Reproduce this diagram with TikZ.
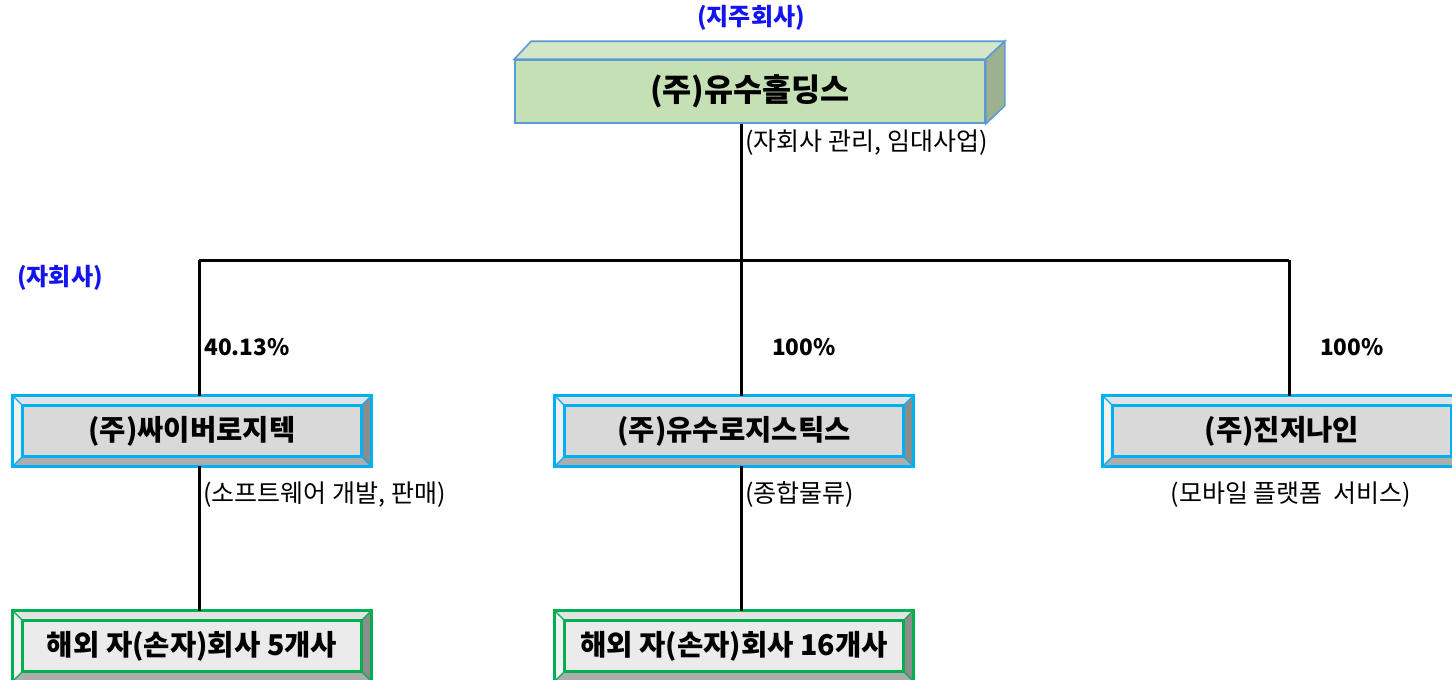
\documentclass[tikz,border=0pt]{standalone}
\usepackage{fontspec}
\setmainfont{Noto Sans CJK KR}

\definecolor{holdfront}{HTML}{C5E0B4}
\definecolor{holdtop}{HTML}{D3E6C7}
\definecolor{holdside}{HTML}{9DB18E}
\definecolor{holdline}{HTML}{5B9BD5}
\definecolor{framecyan}{HTML}{00B0F0}
\definecolor{framegreen}{HTML}{00B050}
\definecolor{facegray}{HTML}{D9D9D9}
\definecolor{facelight}{HTML}{EBEBEB}
\definecolor{bevtop}{HTML}{E3E3E3}
\definecolor{bevleft}{HTML}{F2F2F2}
\definecolor{bevbottom}{HTML}{ADADAD}
\definecolor{bevright}{HTML}{8C8C8C}
\definecolor{titleblue}{HTML}{1414F0}

\tikzset{
    holdbox/.style={draw=holdline, line width=0.8pt, fill=holdfront,
        minimum width=235pt, minimum height=31.5pt, inner sep=0pt,
        font=\bfseries\fontsize{15.8}{19}\selectfont},
    panel/.style={fill=#1, minimum width=179pt, minimum height=35pt, inner sep=0pt,
        font=\bfseries\fontsize{14.3}{17}\selectfont},
    link/.style={line width=1.5pt, black},
    note/.style={inner sep=0pt, font=\fontsize{12.5}{15}\selectfont},
    share/.style={inner sep=0pt, font=\bfseries\fontsize{11.3}{14}\selectfont},
    tag/.style={inner sep=0pt, text=titleblue, font=\bfseries\fontsize{12}{14}\selectfont}
}

\begin{document}
\begin{tikzpicture}[x=0.5pt, y=-0.5pt]
    \useasboundingbox (0,0) rectangle (1452,680);
    % holding company
    \node[tag] (holdtag) at (751,18) {(지주회사)};
    \node[holdbox] (hold) at (750,91.5) {(주)유수홀딩스};
    \filldraw[fill=holdtop, draw=holdline, line width=0.8pt] (hold.north west) -- ++(17,-18)
        -- ([shift={(19,-18)}]hold.north east) -- (hold.north east) -- cycle;
    \filldraw[fill=holdside, draw=holdline, line width=0.8pt] (hold.north east) -- ++(19,-18)
        -- ([shift={(19,-18)}]hold.south east) -- (hold.south east) -- cycle;
    \node[note, anchor=west] (holdnote) at (745,143) {(자회사 관리, 임대사업)};
    % subsidiaries
    \node[tag] (subtag) at (60,278) {(자회사)};
    \node[panel=facegray] (cyber) at (192,431) {(주)싸이버로지텍};
    \node[panel=facegray] (logi) at (734,431) {(주)유수로지스틱스};
    \node[panel=facegray] (ginger) at (1282,431) {(주)진저나인};
    \node[share, anchor=west] (pcyber) at (204,347) {40.13\%};
    \node[share] (plogi) at (804,347) {100\%};
    \node[share] (pginger) at (1352,347) {100\%};
    \node[note, anchor=west] (cybernote) at (203,495) {(소프트웨어 개발, 판매)};
    \node[note, anchor=west] (loginote) at (745,495) {(종합물류)};
    \node[note] (gingernote) at (1291,495) {(모바일 플랫폼~~서비스)};
    % overseas companies
    \node[panel=facelight] (subA) at (192,646) {해외 자(손자)회사 5개사};
    \node[panel=facelight] (subB) at (734,646) {해외 자(손자)회사 16개사};
    % bevelled frames
    \foreach \b/\c in {cyber/framecyan, logi/framecyan, ginger/framecyan, subA/framegreen, subB/framegreen} {
        \fill[bevtop] (\b.north west) -- (\b.north east) -- ([shift={(-10,10)}]\b.north east)
            -- ([shift={(10,10)}]\b.north west) -- cycle;
        \fill[bevleft] (\b.north west) -- ([shift={(10,10)}]\b.north west)
            -- ([shift={(10,-10)}]\b.south west) -- (\b.south west) -- cycle;
        \fill[bevbottom] (\b.south west) -- ([shift={(10,-10)}]\b.south west)
            -- ([shift={(-10,-10)}]\b.south east) -- (\b.south east) -- cycle;
        \fill[bevright] (\b.south east) -- ([shift={(-10,-10)}]\b.south east)
            -- ([shift={(-10,10)}]\b.north east) -- (\b.north east) -- cycle;
        \draw[\c, line width=0.6pt] (\b.north west) -- ++(10,10) (\b.north east) -- ++(-10,10)
            (\b.south west) -- ++(10,-10) (\b.south east) -- ++(-10,-10);
        \draw[\c, line width=1.5pt] ([shift={(10,10)}]\b.north west) rectangle ([shift={(-10,-10)}]\b.south east);
        \draw[\c, line width=1.5pt] (\b.north west) rectangle (\b.south east);
    }
    % connecting lines
    \coordinate (jL) at (199,260);
    \coordinate (jM) at (741,260);
    \coordinate (jR) at (1289,260);
    \draw[link] (hold.south -| jM) -- (logi.north -| jM);
    \draw[link] (jL) -- (jR);
    \draw[link] (jL) -- (cyber.north -| jL);
    \draw[link] (jR) -- (ginger.north -| jR);
    \draw[link] (cyber.south -| jL) -- (subA.north -| jL);
    \draw[link] (logi.south -| jM) -- (subB.north -| jM);
\end{tikzpicture}
\end{document}
